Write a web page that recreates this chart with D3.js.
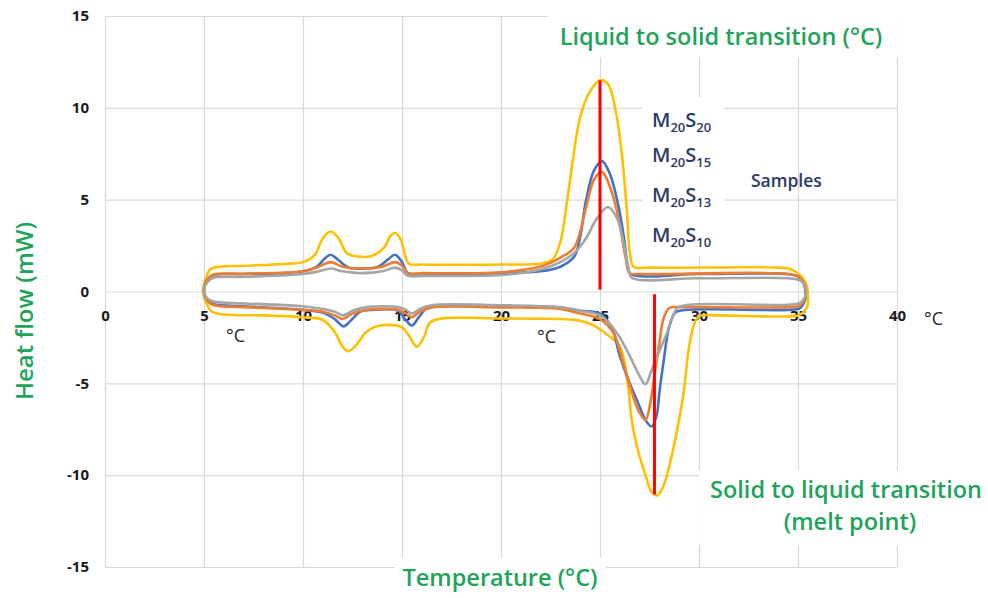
<!DOCTYPE html>
<html>
<head>
<meta charset="utf-8">
<script src="https://cdn.jsdelivr.net/npm/d3@7"></script>
<style>
  html, body { margin: 0; padding: 0; background: #ffffff; }
  svg { display: block; font-family: "Open Sans", "DejaVu Sans", sans-serif; }
</style>
</head>
<body>
<svg id="chart" width="988" height="598"></svg>
<script>
// ---------------- data ----------------
const xTicks = [0, 5, 10, 15, 20, 25, 30, 35, 40];
const yTicks = [-15, -10, -5, 0, 5, 10, 15];

const seriesNames = ["M20S20", "M20S15", "M20S13", "M20S10"];
const seriesColors = ["#FFC000", "#4472C4", "#ED7D31", "#A5A5A5"];

// cooling branch (exotherm, positive), [temperature °C, heat flow mW]
const coolM20S20 = [[4.95,0],[5.1,0.75],[5.3,1.2],[5.6,1.33],[7,1.4],[9,1.5],[10,1.6],[10.6,2.0],[11.0,2.9],[11.4,3.27],[11.8,2.9],[12.2,2.1],[12.8,1.9],[13.5,1.95],[14.1,2.4],[14.4,3.0],[14.65,3.2],[14.95,2.8],[15.15,2.0],[15.35,1.5],[16,1.47],[20,1.47],[22,1.52],[22.6,1.74],[23.0,2.7],[23.4,5.4],[24.0,9.5],[24.5,10.9],[25.0,11.5],[25.4,11.3],[25.8,9.8],[26.1,7.5],[26.35,4.5],[26.5,2.2],[26.7,1.35],[27.5,1.3],[34,1.3],[34.6,1.22],[35.1,0.9],[35.45,0.3],[35.5,-0.3]];
const coolM20S15 = [[5.0,0],[5.2,0.7],[5.5,0.9],[7,0.95],[9,1.0],[10,1.1],[10.7,1.35],[11.1,1.8],[11.4,2.0],[11.8,1.7],[12.3,1.3],[13,1.25],[13.8,1.35],[14.3,1.75],[14.65,2.0],[15.0,1.6],[15.3,1.0],[16,0.93],[20,1.0],[22,1.1],[23,1.35],[23.7,1.9],[24.0,3.0],[24.3,5.0],[24.7,6.6],[25.1,7.1],[25.5,6.4],[25.9,4.8],[26.2,3.0],[26.4,1.4],[26.55,0.95],[30,0.95],[34.5,0.95],[35.0,0.82],[35.3,0.4],[35.38,-0.1]];
const coolM20S13 = [[5.0,0],[5.2,0.7],[5.5,0.92],[7,0.97],[10,1.1],[10.7,1.3],[11.4,1.6],[12,1.35],[13,1.25],[14,1.35],[14.65,1.6],[15.0,1.4],[15.3,1.0],[16,1.0],[20,1.05],[22,1.36],[23,1.85],[23.7,2.4],[24.3,4.6],[24.7,6.1],[25.1,6.5],[25.6,5.4],[26.0,3.6],[26.3,1.8],[26.5,1.0],[27,0.95],[34.5,0.95],[35.1,0.75],[35.35,0.35],[35.4,-0.1]];
const coolM20S10 = [[5.0,0],[5.2,0.55],[5.5,0.75],[7,0.8],[10,0.95],[10.8,1.1],[11.4,1.25],[12,1.1],[13,1.0],[14,1.1],[14.65,1.3],[15.0,1.15],[15.3,0.85],[16,0.85],[20,0.9],[22,1.2],[23,1.6],[23.7,2.1],[24.3,2.9],[24.8,3.9],[25.4,4.6],[25.9,3.9],[26.2,2.6],[26.45,1.2],[26.6,0.75],[30,0.72],[34.5,0.72],[35.1,0.6],[35.35,0.3],[35.4,-0.1]];

// heating branch (endotherm, negative), [temperature °C, heat flow mW]
const heatM20S20 = [[4.95,0],[5.15,-0.7],[5.4,-1.1],[6,-1.25],[8,-1.3],[10,-1.4],[11,-1.55],[11.6,-2.2],[12.0,-3.0],[12.3,-3.25],[12.7,-2.9],[13.2,-2.2],[13.9,-1.85],[15.0,-1.95],[15.35,-2.4],[15.75,-3.0],[16.1,-2.5],[16.4,-1.7],[17,-1.47],[20,-1.47],[23,-1.5],[24,-1.6],[24.6,-1.8],[25.3,-2.3],[26,-3.0],[26.4,-5.0],[26.6,-7.0],[26.9,-8.6],[27.3,-10.0],[27.6,-10.9],[27.9,-11.1],[28.2,-10.6],[28.5,-9.5],[28.9,-7.5],[29.2,-5.7],[29.5,-3.0],[29.75,-1.8],[30.0,-1.35],[31,-1.3],[35,-1.3],[35.3,-1.1],[35.5,-0.7]];
const heatM20S15 = [[5.0,0],[5.2,-0.5],[5.5,-0.7],[7,-0.8],[10,-1.0],[11,-1.15],[11.6,-1.5],[12.05,-1.9],[12.4,-1.6],[12.9,-1.1],[13.5,-1.0],[14.8,-1.05],[15.15,-1.5],[15.5,-1.85],[15.85,-1.4],[16.3,-0.85],[17,-0.75],[20,-0.8],[23,-0.9],[24,-1.05],[25,-1.2],[25.6,-2.0],[26,-3.5],[26.5,-5.0],[26.9,-6.0],[27.3,-7.0],[27.6,-7.35],[27.85,-6.8],[28.0,-5.5],[28.2,-3.9],[28.5,-1.9],[28.8,-1.15],[29.3,-1.0],[34.5,-1.0],[35.1,-0.9],[35.35,-0.5]];
const heatM20S13 = [[5.0,0],[5.2,-0.55],[5.5,-0.75],[7,-0.85],[10,-1.0],[11,-1.1],[11.6,-1.3],[12.0,-1.5],[12.5,-1.2],[13.2,-1.0],[14.8,-1.0],[15.2,-1.2],[15.5,-1.4],[15.9,-1.1],[16.5,-0.87],[20,-0.87],[23,-0.95],[24,-1.2],[25,-1.5],[25.7,-2.3],[26.2,-4.0],[26.7,-5.8],[27.0,-6.6],[27.3,-7.0],[27.55,-6.0],[27.8,-4.2],[28.0,-2.8],[28.2,-1.5],[28.5,-0.9],[29,-0.85],[34.5,-0.85],[35.1,-0.75],[35.35,-0.4]];
const heatM20S10 = [[5.0,0],[5.2,-0.4],[5.5,-0.55],[7,-0.65],[10,-0.8],[11,-0.95],[11.6,-1.1],[12.0,-1.3],[12.5,-1.05],[13.2,-0.85],[14.8,-0.85],[15.2,-1.0],[15.5,-1.2],[15.9,-0.95],[16.5,-0.75],[20,-0.75],[23,-0.85],[24,-1.05],[25,-1.3],[25.6,-1.9],[26.0,-2.5],[26.5,-3.5],[27.0,-4.6],[27.3,-5.05],[27.6,-4.3],[27.9,-3.5],[28.4,-2.2],[28.7,-1.3],[28.9,-0.9],[29.5,-0.72],[34.5,-0.72],[35.1,-0.62],[35.35,-0.3]];

// transition markers [temperature, from mW, to mW]
const crystallisationLine = [25.0, 11.5, 0.1];
const meltLine = [27.75, -0.15, -11.05];

// ---------------- layout ----------------
const svg = d3.select("#chart");
const plotL = 105, plotR = 897, plotT = 16, plotB = 567;
const x = d3.scaleLinear().domain([0, 40]).range([plotL, plotR]);
const y = d3.scaleLinear().domain([-15, 15]).range([plotB, plotT]);
const gridColor = "#d9d9d9";
const green = "#21a35c";
const navy = "#2b3a67";
const plainNum = d => String(d);

// gridlines
const gx = svg.append("g").attr("transform", `translate(0,${plotB})`)
  .call(d3.axisBottom(x).tickValues(xTicks).tickSize(-(plotB - plotT)).tickFormat(""));
gx.select(".domain").remove();
gx.selectAll("line").attr("stroke", gridColor).attr("stroke-width", 1.2);
const gy = svg.append("g").attr("transform", `translate(${plotL},0)`)
  .call(d3.axisLeft(y).tickValues(yTicks).tickSize(-(plotR - plotL)).tickFormat(""));
gy.select(".domain").remove();
gy.selectAll("line").attr("stroke", gridColor).attr("stroke-width", 1.2);

// white label backgrounds that hide gridlines
const boxes = [
  [548, 0, 350, 57],
  [642, 98, 82, 158],
  [395, 558, 211, 40],
  [699, 470, 289, 75]
];
svg.append("g").selectAll("rect").data(boxes).join("rect")
  .attr("x", d => d[0]).attr("y", d => d[1]).attr("width", d => d[2]).attr("height", d => d[3])
  .attr("fill", "#ffffff");

// axis tick labels
const ax = svg.append("g").attr("transform", `translate(0,${y(0)})`)
  .call(d3.axisBottom(x).tickValues(xTicks).tickSize(0).tickFormat(plainNum));
ax.select(".domain").remove();
ax.selectAll("text").attr("dy", null).attr("y", 29)
  .attr("font-family", "Open Sans").attr("font-weight", 700).attr("font-size", 15).attr("fill", "#1a1a1a");
const ay = svg.append("g").attr("transform", `translate(${plotL},0)`)
  .call(d3.axisLeft(y).tickValues(yTicks).tickSize(0).tickPadding(16).tickFormat(plainNum));
ay.select(".domain").remove();
ay.selectAll("text").attr("font-family", "Open Sans").attr("font-weight", 700).attr("font-size", 15).attr("fill", "#1a1a1a");

// DSC loops
const cools = [coolM20S20, coolM20S15, coolM20S13, coolM20S10];
const heats = [heatM20S20, heatM20S15, heatM20S13, heatM20S10];
const loop = d3.line().x(d => x(d[0])).y(d => y(d[1])).curve(d3.curveCatmullRomClosed.alpha(0.5));
const order = [0, 1, 2, 3];
svg.append("g").selectAll("path").data(order).join("path")
  .attr("d", i => loop(cools[i].concat(heats[i].slice(1).reverse())))
  .attr("fill", "none")
  .attr("stroke", i => seriesColors[i])
  .attr("stroke-width", 2.6)
  .attr("stroke-linejoin", "round");

// transition markers
[crystallisationLine, meltLine].forEach(m => {
  svg.append("line")
    .attr("x1", x(m[0])).attr("x2", x(m[0]))
    .attr("y1", y(m[1])).attr("y2", y(m[2]))
    .attr("stroke", "#ff0000").attr("stroke-width", 3);
});

// annotation texts
const titleSize = 23.5;
svg.append("text").attr("x", 721).attr("y", 45).attr("text-anchor", "middle")
  .attr("font-size", titleSize).attr("font-weight", 600).attr("fill", green)
  .text("Liquid to solid transition (°C)");
svg.append("text").attr("transform", "translate(33,311) rotate(-90)").attr("text-anchor", "middle")
  .attr("font-size", titleSize + 0.5).attr("font-weight", 600).attr("fill", green)
  .text("Heat flow (mW)");
svg.append("text").attr("x", 500).attr("y", 586).attr("text-anchor", "middle")
  .attr("font-size", titleSize).attr("font-weight", 600).attr("fill", green)
  .text("Temperature (°C)");
svg.append("text").attr("x", 846).attr("y", 498).attr("text-anchor", "middle")
  .attr("font-size", titleSize).attr("font-weight", 600).attr("fill", green)
  .text("Solid to liquid transition");
svg.append("text").attr("x", 850).attr("y", 530).attr("text-anchor", "middle")
  .attr("font-size", titleSize).attr("font-weight", 600).attr("fill", green)
  .text("(melt point)");

// sample labels
const labelBaselines = [127, 162, 202, 242];
seriesNames.forEach((name, i) => {
  const m = name.match(/^M(\d+)S(\d+)$/);
  const t = svg.append("text").attr("x", 652).attr("y", labelBaselines[i])
    .attr("font-size", 20).attr("font-weight", 600).attr("fill", navy);
  t.append("tspan").text("M");
  t.append("tspan").attr("font-size", 13).attr("dy", 5).text(m[1]);
  t.append("tspan").attr("dy", -5).text("S");
  t.append("tspan").attr("font-size", 13).attr("dy", 5).text(m[2]);
});
svg.append("text").attr("x", 751).attr("y", 187)
  .attr("font-size", 17.5).attr("font-weight", 600).attr("fill", navy).text("Samples");

// unit marks
const unitMarks = [[226, 342], [537, 343], [924, 325]];
svg.append("g").selectAll("text").data(unitMarks).join("text")
  .attr("x", d => d[0]).attr("y", d => d[1])
  .attr("font-size", 18).attr("fill", "#262626").text("°C");
</script>
</body>
</html>
